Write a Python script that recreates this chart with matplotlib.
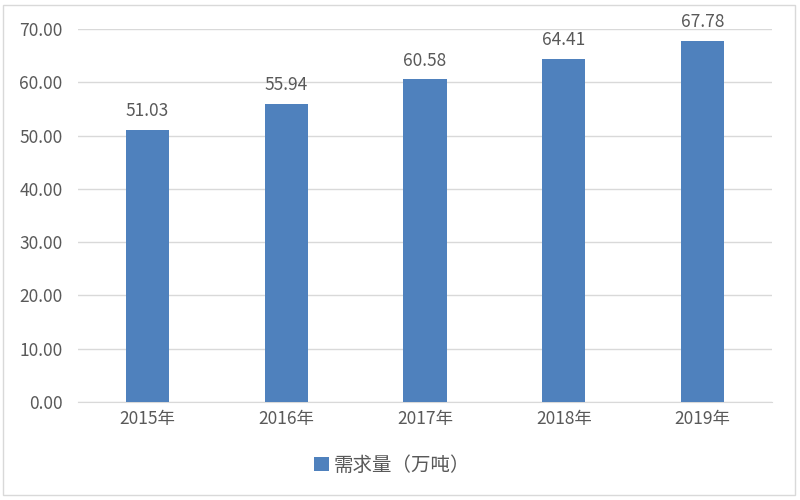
import matplotlib
matplotlib.use('Agg')
import matplotlib.pyplot as plt
from matplotlib.patches import Rectangle

plt.rcParams['font.family'] = ['Noto Sans CJK SC', 'DejaVu Sans']

# 数据
years = ['2015年', '2016年', '2017年', '2018年', '2019年']
demand = [51.03, 55.94, 60.58, 64.41, 67.78]
series_name = '需求量（万吨）'
y_ticks = [0, 10, 20, 30, 40, 50, 60, 70]

bar_color = '#4F81BD'
text_color = '#595959'
grid_color = '#D9D9D9'
fs = 12.5

fig = plt.figure(figsize=(8, 5), dpi=100)
ax = fig.add_axes([0.0975, 0.196, 0.8675, 0.746])

x = range(len(years))
ax.bar(x, demand, width=0.31, color=bar_color, label=series_name, zorder=3)

# 数据标签
for xi, v in zip(x, demand):
    ax.text(xi, v + 1.8, f'{v:.2f}', ha='center', va='bottom',
            fontsize=fs, color=text_color)

ax.set_xlim(-0.5, len(years) - 0.5)
ax.set_ylim(0, 70)
ax.set_yticks(y_ticks)
ax.set_yticklabels([f'{t:.2f}' for t in y_ticks])
ax.set_xticks(list(x))
ax.set_xticklabels(years)
ax.tick_params(axis='both', length=0, labelsize=fs, labelcolor=text_color)
ax.tick_params(axis='y', pad=11)
ax.tick_params(axis='x', pad=6)

ax.yaxis.grid(True, color=grid_color, linewidth=1, zorder=0)
for side in ['top', 'right', 'left']:
    ax.spines[side].set_visible(False)
ax.spines['bottom'].set_color(grid_color)

leg = fig.legend(loc='center', bbox_to_anchor=(0.49, 0.07), frameon=False,
                 fontsize=14, handlelength=0.75, handleheight=0.75,
                 handletextpad=0.25)
for t in leg.get_texts():
    t.set_color(text_color)

# 外框
fig.patches.append(Rectangle((0.004, 0.01), 0.99, 0.98, transform=fig.transFigure,
                             fill=False, edgecolor=grid_color, linewidth=1))

fig.savefig('out.png', dpi=100)
